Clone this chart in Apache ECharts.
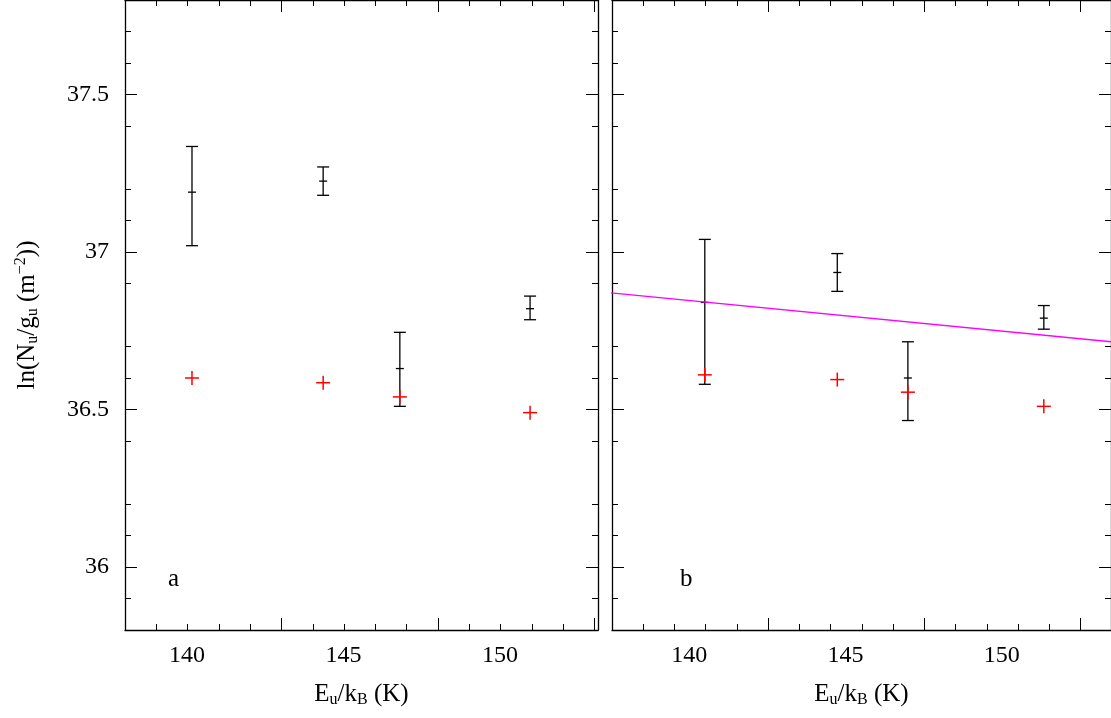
<!DOCTYPE html>
<html><head><meta charset="utf-8">
<script src="https://cdn.jsdelivr.net/npm/echarts@6/dist/echarts.min.js"></script>
<style>html,body{margin:0;background:#fff}#c{width:1111px;height:718px}</style>
</head><body><div id="c"></div>
<script>
// energies (K) as plotted in each panel
const aEnergies = [140.16, 144.35, 146.8, 150.96]
const bEnergies = [140.5, 144.74, 147.0, 151.35]
// panel a: black values with low/high error, red points
const aVal = [37.19, 37.225, 36.63, 36.82]
const aLow = [37.02, 37.18, 36.51, 36.785]
const aHigh = [37.335, 37.27, 36.745, 36.86]
const aRed = [36.60, 36.585, 36.54, 36.49]
// panel b
const bVal = [36.84, 36.935, 36.60, 36.79]
const bLow = [36.58, 36.875, 36.465, 36.755]
const bHigh = [37.04, 36.995, 36.715, 36.83]
const bRed = [36.61, 36.595, 36.555, 36.51]
// fitted line in panel b
const fitX = [137.5, 153.5]
const fitY = [36.87, 36.715]

const font = 'Liberation Serif'
const chart = echarts.init(document.getElementById('c'))

function errSeries(idx, xs, val, low, high) {
  return {
    type: 'custom', xAxisIndex: idx, yAxisIndex: idx,
    data: xs.map((e, i) => [e, val[i], low[i], high[i]]),
    renderItem: (params, api) => {
      const p = api.coord([api.value(0), api.value(1)])
      const lo = api.coord([api.value(0), api.value(2)])
      const hi = api.coord([api.value(0), api.value(3)])
      const st = {stroke: '#000', lineWidth: 1.3}
      const ln = (x1, y1, x2, y2) => ({type: 'line', shape: {x1, y1, x2, y2}, style: st})
      return {type: 'group', children: [
        ln(lo[0], lo[1], hi[0], hi[1]),
        ln(lo[0] - 6, lo[1], lo[0] + 6, lo[1]),
        ln(hi[0] - 6, hi[1], hi[0] + 6, hi[1]),
        ln(p[0] - 4, p[1], p[0] + 4, p[1])
      ]}
    }
  }
}
function plusSeries(idx, xs, vals) {
  return {
    type: 'custom', xAxisIndex: idx, yAxisIndex: idx,
    data: xs.map((e, i) => [e, vals[i]]),
    renderItem: (params, api) => {
      const p = api.coord([api.value(0), api.value(1)])
      const st = {stroke: '#ff0000', lineWidth: 1.5}
      return {type: 'group', children: [
        {type: 'line', shape: {x1: p[0] - 7, y1: p[1], x2: p[0] + 7, y2: p[1]}, style: st},
        {type: 'line', shape: {x1: p[0], y1: p[1] - 7, x2: p[0], y2: p[1] + 7}, style: st}
      ]}
    }
  }
}
const xName = {
  name: '{n|E}{s|u}{n|/k}{s|B}{n| (K)}', nameLocation: 'middle', nameGap: 50,
  nameTextStyle: {rich: {n: {fontFamily: font, fontSize: 25, color: '#000'}, s: {fontFamily: font, fontSize: 16, color: '#000', padding: [12, 0, 0, 0]}}}
}
function xAxis(idx, min, max, pos, show) {
  return Object.assign({
    type: 'value', gridIndex: idx, min, max, interval: 5, position: pos,
    axisLine: {show: true, onZero: false, lineStyle: {color: '#000', width: 1.3}},
    axisTick: {inside: true, length: 12, lineStyle: {color: '#000'}},
    minorTick: {show: true, splitNumber: 5, length: 6, lineStyle: {color: '#000'}},
    splitLine: {show: false},
    axisLabel: {show: show, fontFamily: font, fontSize: 24, color: '#000', margin: 14,
      customValues: [140, 145, 150]}
  }, show ? xName : {})
}
function yAxis(idx, pos, show) {
  const o = {
    type: 'value', gridIndex: idx, min: 35.8, max: 37.8, position: pos,
    axisLine: {show: true, onZero: false, lineStyle: {color: '#000', width: 1.3}},
    axisTick: {inside: true, length: 12, lineStyle: {color: '#000'}, customValues: [36, 36.5, 37, 37.5]},
    minorTick: {show: true, splitNumber: 5, length: 6, lineStyle: {color: '#000'}},
    interval: 0.5, splitLine: {show: false},
    axisLabel: {show: show, fontFamily: font, fontSize: 24, color: '#000', margin: 16,
      customValues: [36, 36.5, 37, 37.5], formatter: v => String(Math.round(v * 10) / 10)}
  }
  if (show) Object.assign(o, {
    name: '{n|ln(N}{s|u}{n|/g}{s|u}{n| (m}{p|−2}{n|))}', nameLocation: 'middle', nameGap: 84,
    nameTextStyle: {rich: {n: {fontFamily: font, fontSize: 25, color: '#000'},
      s: {fontFamily: font, fontSize: 16, color: '#000', padding: [12, 0, 0, 0]},
      p: {fontFamily: font, fontSize: 16, color: '#000', padding: [0, 0, 12, 0]}}}
  })
  return o
}
chart.setOption({
  animation: false,
  grid: [
    {left: 125, width: 473, top: 0, height: 630},
    {left: 612, width: 499, top: 0, height: 630}
  ],
  xAxis: [
    xAxis(0, 138.02, 153.13, 'bottom', true),
    xAxis(1, 137.53, 153.5, 'bottom', true),
    xAxis(0, 138.02, 153.13, 'top', false),
    xAxis(1, 137.53, 153.5, 'top', false)
  ],
  yAxis: [
    yAxis(0, 'left', true), yAxis(1, 'left', false),
    yAxis(0, 'right', false), yAxis(1, 'right', false)
  ],
  graphic: [
    {type: 'text', left: 168, top: 567, style: {text: 'a', fontFamily: font, fontSize: 25, fill: '#000'}},
    {type: 'text', left: 680, top: 567, style: {text: 'b', fontFamily: font, fontSize: 25, fill: '#000'}}
  ],
  series: [
    errSeries(0, aEnergies, aVal, aLow, aHigh), plusSeries(0, aEnergies, aRed),
    errSeries(1, bEnergies, bVal, bLow, bHigh), plusSeries(1, bEnergies, bRed),
    {type: 'line', xAxisIndex: 1, yAxisIndex: 1, data: fitX.map((x, i) => [x, fitY[i]]),
      symbol: 'none', lineStyle: {color: '#ff00ff', width: 1.3}}
  ]
})
</script></body></html>
